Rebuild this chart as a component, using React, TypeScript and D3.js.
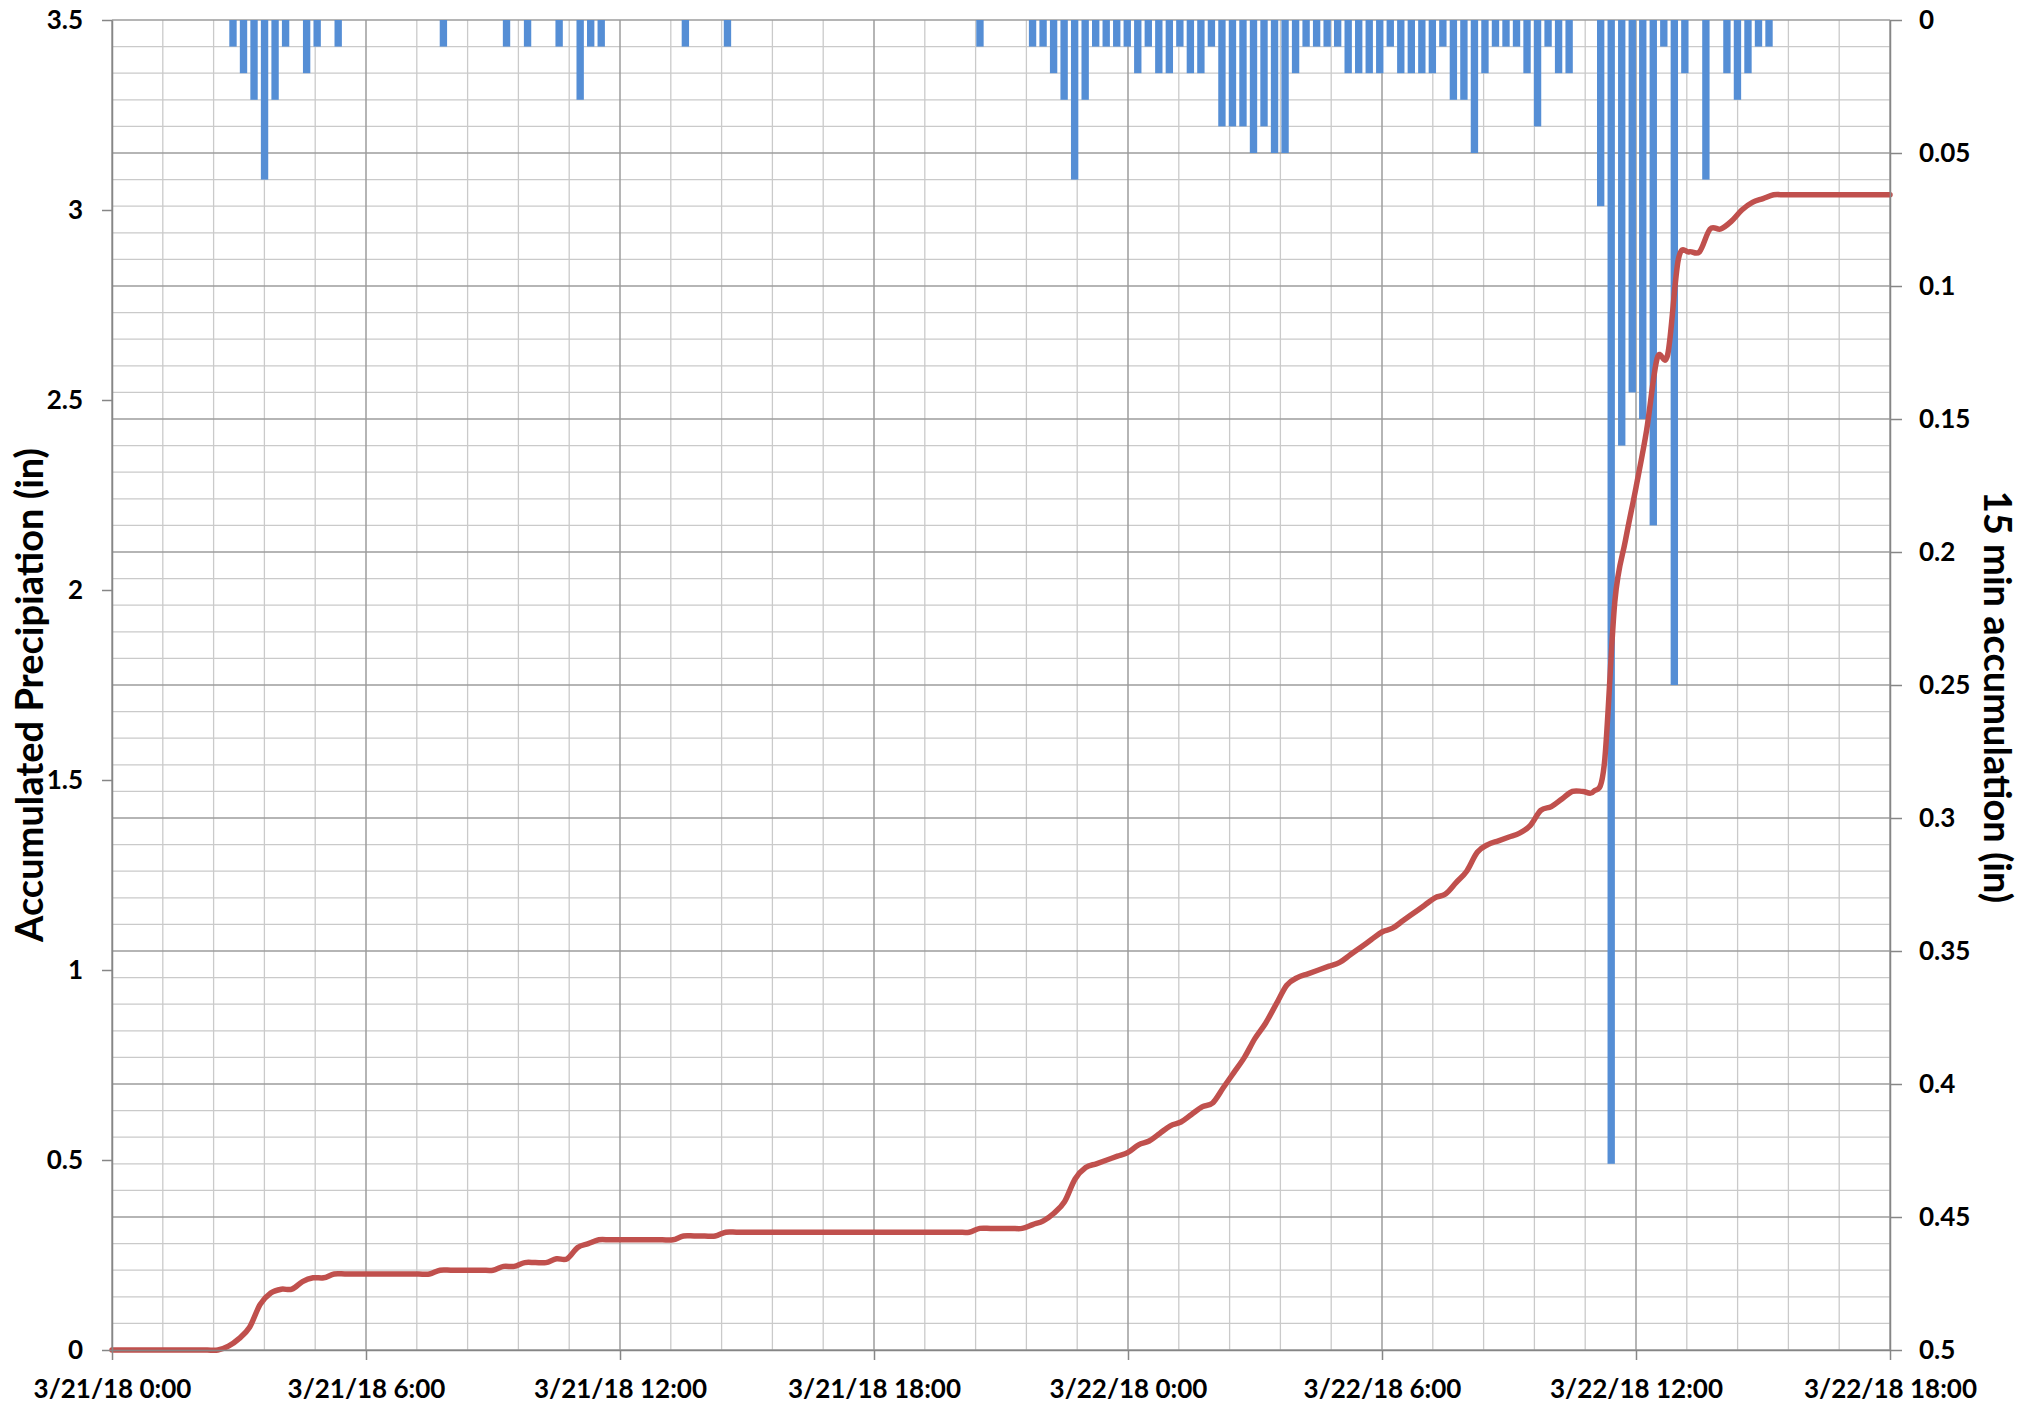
import React, { useEffect, useRef } from 'react';
import * as d3 from 'd3';

// 15 min accumulation (in), one value every 15 minutes from 3/21/18 0:00 to 3/22/18 18:00
const rain15 = [
  0, 0, 0, 0, 0, 0, 0, 0, 0, 0, 0, 0.01,
  0.02, 0.03, 0.06, 0.03, 0.01, 0, 0.02, 0.01, 0, 0.01, 0, 0,
  0, 0, 0, 0, 0, 0, 0, 0.01, 0, 0, 0, 0,
  0, 0.01, 0, 0.01, 0, 0, 0.01, 0, 0.03, 0.01, 0.01, 0,
  0, 0, 0, 0, 0, 0, 0.01, 0, 0, 0, 0.01, 0,
  0, 0, 0, 0, 0, 0, 0, 0, 0, 0, 0, 0,
  0, 0, 0, 0, 0, 0, 0, 0, 0, 0, 0.01, 0,
  0, 0, 0, 0.01, 0.01, 0.02, 0.03, 0.06, 0.03, 0.01, 0.01, 0.01,
  0.01, 0.02, 0.01, 0.02, 0.02, 0.01, 0.02, 0.02, 0.01, 0.04, 0.04, 0.04,
  0.05, 0.04, 0.05, 0.05, 0.02, 0.01, 0.01, 0.01, 0.01, 0.02, 0.02, 0.02,
  0.02, 0.01, 0.02, 0.02, 0.02, 0.02, 0.01, 0.03, 0.03, 0.05, 0.02, 0.01,
  0.01, 0.01, 0.02, 0.04, 0.01, 0.02, 0.02, 0, 0, 0.07, 0.43, 0.16,
  0.14, 0.15, 0.19, 0.01, 0.25, 0.02, 0, 0.06, 0, 0.02, 0.03, 0.02,
  0.01, 0.01, 0, 0, 0, 0, 0, 0, 0, 0, 0, 0,
  0,
];

// Accumulated precipitation (in) at the same 15 min steps
const accum = [
  0, 0, 0, 0, 0, 0, 0, 0, 0, 0, 0, 0.01,
  0.03, 0.06, 0.12, 0.15, 0.16, 0.16, 0.18, 0.19, 0.19, 0.2, 0.2, 0.2,
  0.2, 0.2, 0.2, 0.2, 0.2, 0.2, 0.2, 0.21, 0.21, 0.21, 0.21, 0.21,
  0.21, 0.22, 0.22, 0.23, 0.23, 0.23, 0.24, 0.24, 0.27, 0.28, 0.29, 0.29,
  0.29, 0.29, 0.29, 0.29, 0.29, 0.29, 0.3, 0.3, 0.3, 0.3, 0.31, 0.31,
  0.31, 0.31, 0.31, 0.31, 0.31, 0.31, 0.31, 0.31, 0.31, 0.31, 0.31, 0.31,
  0.31, 0.31, 0.31, 0.31, 0.31, 0.31, 0.31, 0.31, 0.31, 0.31, 0.32, 0.32,
  0.32, 0.32, 0.32, 0.33, 0.34, 0.36, 0.39, 0.45, 0.48, 0.49, 0.5, 0.51,
  0.52, 0.54, 0.55, 0.57, 0.59, 0.6, 0.62, 0.64, 0.65, 0.69, 0.73, 0.77,
  0.82, 0.86, 0.91, 0.96, 0.98, 0.99, 1.0, 1.01, 1.02, 1.04, 1.06, 1.08,
  1.1, 1.11, 1.13, 1.15, 1.17, 1.19, 1.2, 1.23, 1.26, 1.31, 1.33, 1.34,
  1.35, 1.36, 1.38, 1.42, 1.43, 1.45, 1.47, 1.47, 1.47, 1.54, 1.97, 2.13,
  2.27, 2.42, 2.61, 2.62, 2.87, 2.89, 2.89, 2.95, 2.95, 2.97, 3.0, 3.02,
  3.03, 3.04, 3.04, 3.04, 3.04, 3.04, 3.04, 3.04, 3.04, 3.04, 3.04, 3.04,
  3.04,
];

const leftTicks = [0, 0.5, 1, 1.5, 2, 2.5, 3, 3.5];
const rightTicks = [0, 0.05, 0.1, 0.15, 0.2, 0.25, 0.3, 0.35, 0.4, 0.45, 0.5];
const hourTicks = [0, 6, 12, 18, 24, 30, 36, 42];

const FONT = 'Lato, "Open Sans", sans-serif';

export default function App() {
  const chartRef = useRef<SVGSVGElement>(null);

  useEffect(() => {
    if (!chartRef.current) return;
    const svg = d3.select(chartRef.current);
    svg.selectAll('*').remove();

    const width = 2025;
    const height = 1406;
    const margin = { top: 20, right: 135, bottom: 56, left: 112 };
    const left = margin.left;
    const right = width - margin.right;
    const top = margin.top;
    const bottom = height - margin.bottom;

    const start = new Date(2018, 2, 21, 0, 0);
    const end = d3.timeHour.offset(start, 42);
    const stepTime = (i: number) => d3.timeMinute.offset(start, 15 * i);

    const x = d3.scaleTime().domain([start, end]).range([left, right]);
    const xBand = d3
      .scaleBand<number>()
      .domain(d3.range(rain15.length))
      .range([left, right])
      .paddingInner(0.3)
      .paddingOuter(0.15);
    const yLeft = d3.scaleLinear().domain([0, 3.5]).range([bottom, top]);
    const yRight = d3.scaleLinear().domain([0, 0.5]).range([top, bottom]);

    svg.append('rect').attr('width', width).attr('height', height).attr('fill', '#fff');

    // Gridlines: vertical every 1.2 h (major every 6 h), horizontal every 0.01 on right axis
    const grid = svg.append('g');
    const vGrid = d3.range(0, 36).map(i => ({ t: d3.timeMinute.offset(start, i * 72), major: i % 5 === 0 }));
    const hGrid = d3.range(0, 51).map(i => ({ v: i / 100, major: i % 5 === 0 }));

    [false, true].forEach(major => {
      grid.selectAll(null)
        .data(hGrid.filter(d => d.major === major))
        .enter()
        .append('line')
        .attr('x1', left)
        .attr('x2', right)
        .attr('y1', d => yRight(d.v))
        .attr('y2', d => yRight(d.v))
        .attr('stroke', major ? '#9d9d9d' : '#cacaca')
        .attr('stroke-width', major ? 1.5 : 1.3);
      grid.selectAll(null)
        .data(vGrid.filter(d => d.major === major))
        .enter()
        .append('line')
        .attr('x1', d => x(d.t))
        .attr('x2', d => x(d.t))
        .attr('y1', top)
        .attr('y2', bottom)
        .attr('stroke', major ? '#9d9d9d' : '#cacaca')
        .attr('stroke-width', major ? 1.5 : 1.3);
    });

    // 15 min bars hanging from the top (reversed right axis)
    svg.append('g')
      .selectAll('rect')
      .data(rain15.map((v, i) => ({ v, i })).filter(d => d.v > 0))
      .enter()
      .append('rect')
      .attr('x', d => xBand(d.i) as number)
      .attr('width', xBand.bandwidth())
      .attr('y', yRight(0))
      .attr('height', d => yRight(d.v) - yRight(0))
      .attr('fill', '#558ED5');

    // Accumulated line (Excel style smoothed)
    const line = d3.line<number>()
      .x((_, i) => x(stepTime(i)))
      .y(d => yLeft(d))
      .curve(d3.curveCardinal.tension(0));

    svg.append('path')
      .datum(accum)
      .attr('d', line)
      .attr('fill', 'none')
      .attr('stroke', '#C0504D')
      .attr('stroke-width', 5.5)
      .attr('stroke-linejoin', 'round')
      .attr('stroke-linecap', 'round');

    const styleAxis = (g: d3.Selection<SVGGElement, unknown, null, undefined>) => {
      g.selectAll('.domain').attr('stroke', '#868686').attr('stroke-width', 1.5);
      g.selectAll('.tick line').attr('stroke', '#868686').attr('stroke-width', 1.5);
      g.selectAll('text')
        .attr('font-family', FONT)
        .attr('font-weight', 700)
        .attr('font-size', 26)
        .attr('fill', '#000');
    };

    // Left axis
    svg.append('g')
      .attr('transform', `translate(${left},0)`)
      .call(d3.axisLeft(yLeft).tickValues(leftTicks).tickSize(10).tickSizeOuter(0).tickPadding(19)
        .tickFormat(d => String(d)))
      .call(styleAxis);

    // Right axis
    svg.append('g')
      .attr('transform', `translate(${right},0)`)
      .call(d3.axisRight(yRight).tickValues(rightTicks).tickSize(12).tickSizeOuter(0).tickPadding(17)
        .tickFormat(d => String(d)))
      .call(styleAxis);

    // Bottom axis
    const fmt = d3.timeFormat('%-m/%-d/%y %-H:%M');
    svg.append('g')
      .attr('transform', `translate(0,${bottom})`)
      .call(d3.axisBottom(x)
        .tickValues(hourTicks.map(h => d3.timeHour.offset(start, h)))
        .tickSize(10).tickSizeOuter(0).tickPadding(20)
        .tickFormat(d => fmt(d as Date)))
      .call(styleAxis);

    // Axis titles
    svg.append('text')
      .attr('transform', `translate(28,${(top + bottom) / 2 + 10}) rotate(-90)`)
      .attr('text-anchor', 'middle')
      .attr('dominant-baseline', 'central')
      .attr('font-family', FONT)
      .attr('font-weight', 700)
      .attr('font-size', 38)
      .text('Accumulated Precipiation (in)');

    svg.append('text')
      .attr('transform', `translate(1999,${(top + bottom) / 2 + 12}) rotate(90)`)
      .attr('text-anchor', 'middle')
      .attr('dominant-baseline', 'central')
      .attr('font-family', FONT)
      .attr('font-weight', 700)
      .attr('font-size', 38)
      .text('15 min accumulation (in)');
  }, []);

  return (
    <div style={{ position: 'fixed', left: 0, top: 0 }}>
      <svg ref={chartRef} width={2025} height={1406} style={{ display: 'block' }} />
    </div>
  );
}
